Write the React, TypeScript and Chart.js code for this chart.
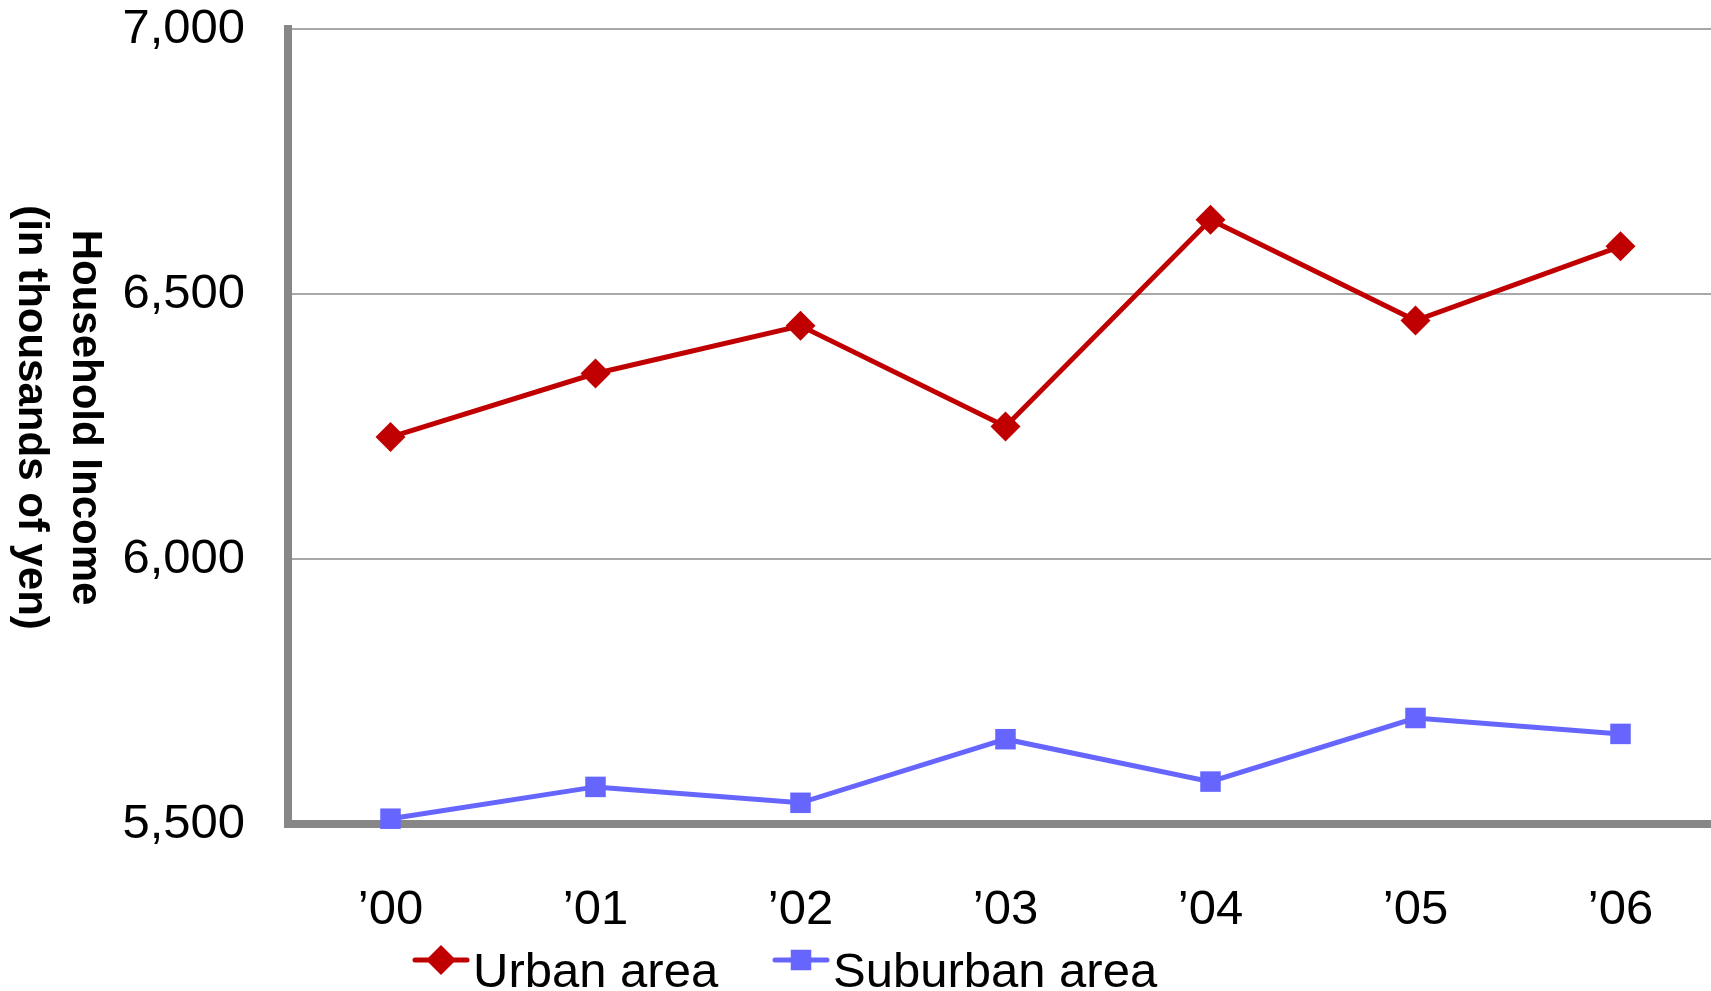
import React, { useEffect, useRef } from "react";
import { Chart, registerables } from "chart.js";

Chart.register(...registerables);

// Fiscal years shown on the category axis
const years = ["’00", "’01", "’02", "’03", "’04", "’05", "’06"];
// Household income, thousands of yen
const urbanIncome = [6230, 6350, 6440, 6250, 6640, 6450, 6590];
const suburbanIncome = [5510, 5570, 5540, 5660, 5580, 5700, 5670];
// Value axis range and step
const yMin = 5500;
const yMax = 7000;
const yStep = 500;
const seriesNames = ["Urban area", "Suburban area"];
const yTitleLines = ["Household Income", "(in thousands of yen)"];

const URBAN = "#C00000";
const SUBURBAN = "#6666FF";
const AXIS = "#878787";
const GRID = "#A8A8A8";
const FONT = "'Liberation Sans', Arial, Helvetica, sans-serif";

// Two-line value-axis title, reading top to bottom
const yTitlePlugin = {
  id: "yTitleRotated",
  afterDraw(chart: any) {
    const { ctx, chartArea } = chart;
    const cy = (chartArea.top + chartArea.bottom) / 2 - 9;
    const xs = [87, 33];
    ctx.save();
    ctx.fillStyle = "#000";
    ctx.font = `bold 42px ${FONT}`;
    ctx.textAlign = "center";
    ctx.textBaseline = "middle";
    yTitleLines.forEach((line, i) => {
      ctx.save();
      ctx.translate(xs[i], cy);
      ctx.rotate(Math.PI / 2);
      ctx.fillText(line, 0, 2);
      ctx.restore();
    });
    ctx.restore();
  },
};

// Legend: a short line with the series marker, followed by its name
const lineLegendPlugin = {
  id: "lineLegend",
  afterDraw(chart: any) {
    const { ctx } = chart;
    const starts = [415, 775];
    const markerY = 960;
    const baseline = 987;
    ctx.save();
    chart.data.datasets.forEach((ds: any, i: number) => {
      const x0 = starts[i];
      const x1 = x0 + 52;
      const cx = (x0 + x1) / 2;
      ctx.strokeStyle = ds.borderColor;
      ctx.lineWidth = 5;
      ctx.lineCap = "round";
      ctx.beginPath();
      ctx.moveTo(x0, markerY);
      ctx.lineTo(x1, markerY);
      ctx.stroke();
      ctx.fillStyle = ds.pointBackgroundColor;
      ctx.beginPath();
      if (ds.pointStyle === "rectRot") {
        const r = ds.pointRadius;
        ctx.moveTo(cx - r, markerY);
        ctx.lineTo(cx, markerY - r);
        ctx.lineTo(cx + r, markerY);
        ctx.lineTo(cx, markerY + r);
        ctx.closePath();
      } else {
        const h = ds.pointRadius * Math.SQRT1_2;
        ctx.rect(cx - h, markerY - h, 2 * h, 2 * h);
      }
      ctx.fill();
      ctx.fillStyle = "#000";
      ctx.font = `49px ${FONT}`;
      ctx.textAlign = "left";
      ctx.textBaseline = "alphabetic";
      ctx.fillText(ds.label, x1 + 6, baseline);
    });
    ctx.restore();
  },
};

export default function App() {
  const canvasRef = useRef<HTMLCanvasElement | null>(null);

  useEffect(() => {
    const canvas = canvasRef.current;
    if (!canvas) return;
    const chart = new Chart(canvas, {
      type: "line",
      data: {
        labels: years,
        datasets: [
          {
            label: seriesNames[0],
            data: urbanIncome,
            borderColor: URBAN,
            backgroundColor: URBAN,
            pointBackgroundColor: URBAN,
            borderWidth: 5,
            pointStyle: "rectRot",
            pointRadius: 15,
            pointBorderWidth: 0,
            tension: 0,
            clip: false,
          } as any,
          {
            label: seriesNames[1],
            data: suburbanIncome,
            borderColor: SUBURBAN,
            backgroundColor: SUBURBAN,
            pointBackgroundColor: SUBURBAN,
            borderWidth: 5,
            pointStyle: "rect",
            pointRadius: 14.5,
            pointBorderWidth: 0,
            tension: 0,
            clip: false,
          } as any,
        ],
      },
      options: {
        responsive: false,
        animation: false,
        events: [],
        layout: { padding: { top: 29, right: 8, bottom: 0, left: 0 } },
        plugins: {
          legend: { display: false },
          tooltip: { enabled: false },
          title: { display: false },
        },
        scales: {
          x: {
            type: "category",
            offset: true,
            grid: { display: false, drawTicks: false },
            border: { display: true, color: AXIS, width: 8 },
            ticks: {
              color: "#000",
              font: { family: FONT, size: 49 },
              padding: 57,
              maxRotation: 0,
            },
            afterFit: (scale: any) => {
              scale.height = 167;
            },
          },
          y: {
            min: yMin,
            max: yMax,
            ticks: {
              stepSize: yStep,
              color: "#000",
              font: { family: FONT, size: 49, lineHeight: 1 },
              padding: 0,
              callback: (v: any) => Number(v).toLocaleString("en-US"),
            },
            grid: {
              color: GRID,
              lineWidth: 2,
              drawTicks: true,
              tickLength: 43,
              tickColor: "rgba(0,0,0,0)",
            },
            border: { display: true, color: AXIS, width: 8 },
            afterFit: (scale: any) => {
              scale.width = 288;
            },
          },
        },
      },
      plugins: [yTitlePlugin, lineLegendPlugin],
    });
    return () => chart.destroy();
  }, []);

  return (
    <div
      style={{
        position: "fixed",
        left: 0,
        top: 0,
        width: 1711,
        height: 991,
        overflow: "hidden",
        background: "#fff",
      }}
    >
      <canvas
        ref={canvasRef}
        width={1738}
        height={991}
        style={{ display: "block", width: 1738, height: 991 }}
      />
    </div>
  );
}
